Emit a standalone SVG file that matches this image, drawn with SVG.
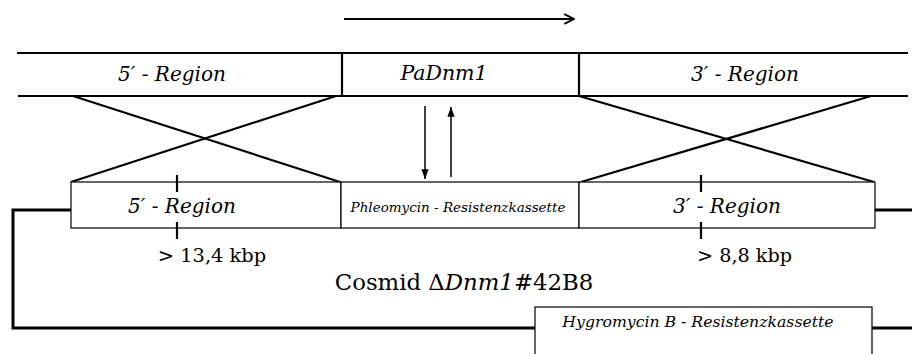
<svg xmlns="http://www.w3.org/2000/svg" width="912" height="354" viewBox="0 0 912 354">
<style>
text{font-family:'DejaVu Serif',serif;fill:#000}
.i{font-style:italic}
.thick{stroke:#000;stroke-width:2.2;fill:none}
.loop{stroke:#000;stroke-width:3;fill:none}
.box{stroke:#000;stroke-width:1.2;fill:#fff}
.thin{stroke:#000;stroke-width:1.5;fill:none}
</style>
<defs>
<marker id="open" viewBox="0 0 10 10" refX="9" refY="5" markerWidth="5.5" markerHeight="5.5" orient="auto" markerUnits="strokeWidth">
<path d="M1,1 L9,5 L1,9" fill="none" stroke="#000" stroke-width="1.6"/>
</marker>
<marker id="fill" viewBox="0 0 10 10" refX="10" refY="5" markerWidth="6.5" markerHeight="4.8" orient="auto" markerUnits="strokeWidth" preserveAspectRatio="none">
<path d="M0,0 L10,5 L0,10 Z" fill="#000"/>
</marker>
</defs>
<g id="connectors">
<line class="thick" x1="344" y1="19" x2="574" y2="19" marker-end="url(#open)"/>
<line class="thick" x1="73" y1="96" x2="340" y2="182"/>
<line class="thick" x1="336" y1="96" x2="71" y2="182"/>
<line class="thick" x1="579" y1="96" x2="874" y2="182"/>
<line class="thick" x1="871" y1="96" x2="581" y2="182"/>
<line class="thin" x1="425" y1="106" x2="425" y2="179" marker-end="url(#fill)"/>
<line class="thin" x1="451" y1="177" x2="451" y2="107" marker-end="url(#fill)"/>
<polyline class="loop" points="71,210 13,210 13,328 535,328"/>
<line class="loop" x1="875" y1="210" x2="912" y2="210"/>
<line class="loop" x1="872" y1="328" x2="912" y2="328"/>
</g>
<g id="genome">
<line class="thick" x1="17" y1="53" x2="908" y2="53"/>
<line class="thick" x1="18" y1="96" x2="908" y2="96"/>
<line class="thick" x1="342" y1="53" x2="342" y2="96"/>
<line class="thick" x1="579" y1="53" x2="579" y2="96"/>
</g>
<g id="top-5region"><text class="i" x="172" y="81" font-size="20" text-anchor="middle">5′ - Region</text></g>
<g id="top-padnm1"><text class="i" x="444" y="80" font-size="20.5" text-anchor="middle">PaDnm1</text></g>
<g id="top-3region"><text class="i" x="745" y="81" font-size="20" text-anchor="middle">3′ - Region</text></g>
<g id="box-5region">
<rect class="box" x="71" y="182" width="270" height="46"/>
<text class="i" x="182" y="213" font-size="20" text-anchor="middle">5′ - Region</text>
<line class="thick" x1="177" y1="175" x2="177" y2="192"/>
<line class="thick" x1="177" y1="222" x2="177" y2="239"/>
</g>
<g id="box-phleo">
<rect class="box" x="341" y="182" width="238" height="46"/>
<text class="i" x="458" y="212" font-size="13.5" text-anchor="middle">Phleomycin - Resistenzkassette</text>
</g>
<g id="box-3region">
<rect class="box" x="579" y="182" width="296" height="46"/>
<text class="i" x="727" y="213" font-size="20" text-anchor="middle">3′ - Region</text>
<line class="thick" x1="701" y1="175" x2="701" y2="192"/>
<line class="thick" x1="701" y1="222" x2="701" y2="239"/>
</g>
<g id="box-hygro">
<rect class="box" x="535" y="307" width="337" height="60" stroke-width="1.5"/>
<text class="i" x="698" y="327" font-size="15.7" text-anchor="middle">Hygromycin B - Resistenzkassette</text>
</g>
<g id="labels">
<text x="212" y="262" font-size="19.4" text-anchor="middle">&gt; 13,4 kbp</text>
<text x="744.5" y="262" font-size="19.2" text-anchor="middle">&gt; 8,8 kbp</text>
<text x="464" y="290" font-size="22.8" text-anchor="middle">Cosmid Δ<tspan class="i">Dnm1</tspan>#42B8</text>
</g>
</svg>
